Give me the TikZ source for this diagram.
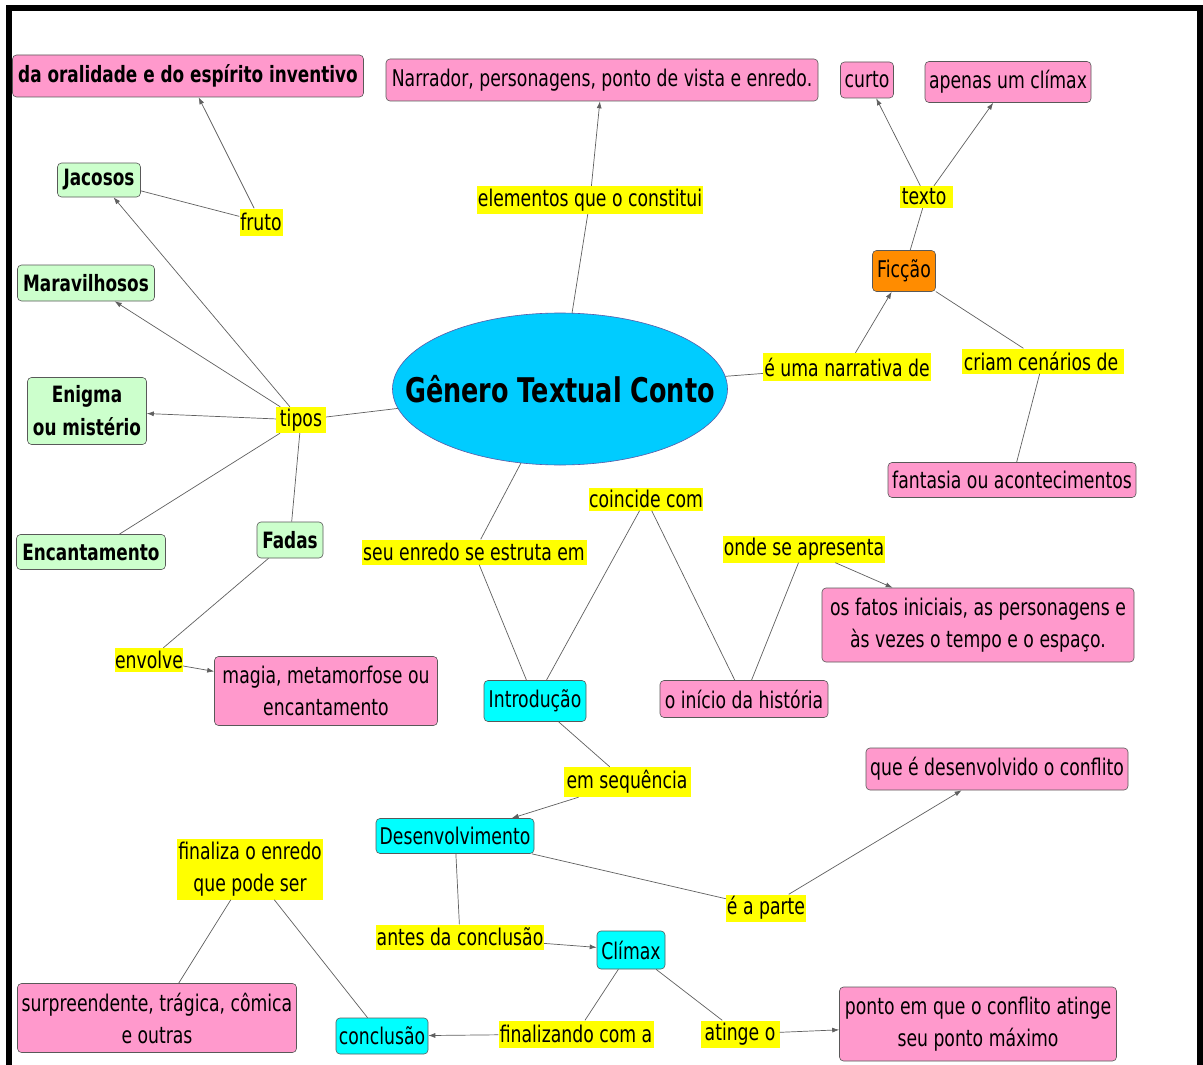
\documentclass[tikz,border=0pt]{standalone}
\usepackage{fontspec}
\setmainfont{DejaVu Sans}[FakeStretch=0.75]
\usetikzlibrary{arrows.meta,shapes.geometric}
\definecolor{pinkc}{HTML}{FF99CC}
\definecolor{greenc}{HTML}{CCFFCC}
\definecolor{cyanc}{HTML}{00FFFF}
\definecolor{bluec}{HTML}{00CCFF}
\definecolor{orangec}{HTML}{FF8C00}
\definecolor{linec}{HTML}{606060}
\definecolor{yel}{HTML}{FFFF00}
\tikzset{
 box/.style={rectangle, rounded corners=4pt, draw=gray!70!black, line width=0.6pt, inner sep=0pt, align=center, font=\fontsize{23}{32}\selectfont},
 pk/.style={box, fill=pinkc},
 gr/.style={box, fill=greenc, font=\fontsize{22.5}{33}\selectfont\bfseries},
 cy/.style={box, fill=cyanc},
 lk/.style={rectangle, fill=yel, inner sep=0pt, align=center, font=\fontsize{23}{32}\selectfont},
 ln/.style={draw=linec, line width=0.7pt},
 ar/.style={ln, -{Latex[length=7pt,width=5pt]}},
}
\begin{document}
\begin{tikzpicture}[x=1pt,y=-1pt]
\useasboundingbox (0,0) rectangle (1203,1065);
\fill[white] (0,0) rectangle (1203,1065);
\draw[line width=6pt] (8.5,1065) -- (8.5,8.5) -- (1200,8.5) -- (1200,1065);

% main
\node[ellipse, draw=gray!70!blue, line width=0.6pt, fill=bluec, minimum width=335, minimum height=152, inner sep=0pt,
  label={[font=\fontsize{34}{40}\selectfont\bfseries, inner sep=0pt]center:Gênero Textual Conto}] (main) at (560,389) {};

% pink concepts
\node[pk, minimum width=351, minimum height=42, font=\fontsize{22.5}{30}\selectfont\bfseries] (oral) at (188,76) {da oralidade e do espírito inventivo};
\node[pk, minimum width=432, minimum height=42] (narr) at (602,80) {Narrador, personagens, ponto de vista e enredo.};
\node[pk, minimum width=53, minimum height=36] (curto) at (867,80) {curto};
\node[pk, minimum width=166, minimum height=41] (apenas) at (1008,82) {apenas um clímax};
\node[box, fill=orangec, minimum width=63, minimum height=41] (ficcao) at (904,271) {Ficção};
\node[pk, minimum width=248, minimum height=35] (fant) at (1012,480) {fantasia ou acontecimentos};
\node[pk, minimum width=312, minimum height=74] (fatos) at (978,625) {os fatos iniciais, as personagens e\\às vezes o tempo e o espaço.};
\node[pk, minimum width=168, minimum height=37] (inicio) at (744,699) {o início da história};
\node[cy, minimum width=102, minimum height=41] (intro) at (535,701) {Introdução};
\node[pk, minimum width=223, minimum height=69] (magia) at (326,691) {magia, metamorfose ou\\encantamento};
\node[pk, minimum width=262, minimum height=42] (quee) at (997,769) {que é desenvolvido o conflito};
\node[cy, minimum width=158, minimum height=35] (desenv) at (455,836) {Desenvolvimento};
\node[cy, minimum width=68, minimum height=38] (climax) at (631,950) {Clímax};
\node[cy, minimum width=92, minimum height=36] (concl) at (382,1036) {conclusão};
\node[pk, minimum width=279, minimum height=69] (surp) at (157,1018) {surpreendente, trágica, cômica\\e outras};
\node[pk, minimum width=277, minimum height=74] (ponto) at (978,1024) {ponto em que o conflito atinge\\seu ponto máximo};

% green
\node[gr, minimum width=83, minimum height=34] (jac) at (99,180) {Jacosos};
\node[gr, minimum width=137, minimum height=36] (mara) at (86,283) {Maravilhosos};
\node[gr, minimum width=119, minimum height=67] (enig) at (87,411) {Enigma\\ou mistério};
\node[gr, minimum width=149, minimum height=35] (encan) at (91,552) {Encantamento};
\node[gr, minimum width=66, minimum height=36] (fadas) at (290,540) {Fadas};

% linking phrases
\node[lk, minimum width=43, minimum height=27] (fruto) at (261,222) {fruto};
\node[lk, minimum width=226, minimum height=28] (elem) at (590,200) {elementos que o constitui};
\node[lk, minimum width=53, minimum height=22] (texto) at (926,197) {texto\,};
\node[lk, minimum width=50, minimum height=26] (tipos) at (301,420) {tipos};
\node[lk, minimum width=168, minimum height=28] (narrde) at (847,367) {é uma narrativa de};
\node[lk, minimum width=162, minimum height=25] (criam) at (1043,361) {criam cenários de\,};
\node[lk, minimum width=113, minimum height=23] (coinc) at (646,499) {coincide com};
\node[lk, minimum width=225, minimum height=25] (seuen) at (474,552) {seu enredo se estruta em};
\node[lk, minimum width=162, minimum height=27] (onde) at (804,549) {onde se apresenta};
\node[lk, minimum width=68, minimum height=24] (envolve) at (149,660) {envolve};
\node[lk, minimum width=127, minimum height=30] (emseq) at (627,782) {em sequência};
\node[lk, minimum width=146, minimum height=61] (finaliza) at (250,869) {finaliza o enredo\\que pode ser};
\node[lk, minimum width=168, minimum height=25] (antes) at (460,937) {antes da conclusão};
\node[lk, minimum width=80, minimum height=27] (aparte) at (766,908) {é a parte};
\node[lk, minimum width=155, minimum height=27] (finalizando) at (576,1034) {finalizando com a};
\node[lk, minimum width=79, minimum height=27] (atinge) at (740,1034) {atinge o};

% connectors
\draw[ln] (jac) -- (fruto);
\draw[ar] (fruto) -- (oral);
\draw[ln] (main) -- (tipos);
\draw[ar] (tipos) -- (jac);
\draw[ar] (tipos) -- (mara);
\draw[ar] (tipos) -- (enig);
\draw[ln] (tipos) -- (encan);
\draw[ln] (tipos) -- (fadas);
\draw[ln] (fadas) -- (envolve);
\draw[ar] (envolve) -- (magia);
\draw[ln] (main) -- (elem);
\draw[ar] (elem) -- (narr);
\draw[ln] (main) -- (narrde);
\draw[ar] (narrde) -- (ficcao);
\draw[ln] (ficcao) -- (criam);
\draw[ln] (criam) -- (fant);
\draw[ln] (ficcao) -- (texto);
\draw[ar] (texto) -- (curto);
\draw[ar] (texto) -- (apenas);
\draw[ln] (main) -- (seuen);
\draw[ln] (seuen) -- (intro);
\draw[ln] (intro) -- (coinc);
\draw[ln] (coinc) -- (inicio);
\draw[ln] (inicio) -- (onde);
\draw[ar] (onde) -- (fatos);
\draw[ln] (intro) -- (emseq);
\draw[ar] (emseq) -- (desenv);
\draw[ln] (desenv) -- (aparte);
\draw[ar] (aparte) -- (quee);
\draw[ln] (desenv) -- (antes);
\draw[ar] (antes) -- (climax);
\draw[ln] (climax) -- (finalizando);
\draw[ar] (finalizando) -- (concl);
\draw[ln] (climax) -- (atinge);
\draw[ar] (atinge) -- (ponto);
\draw[ln] (concl) -- (finaliza);
\draw[ln] (finaliza) -- (surp);
\end{tikzpicture}
\end{document}
